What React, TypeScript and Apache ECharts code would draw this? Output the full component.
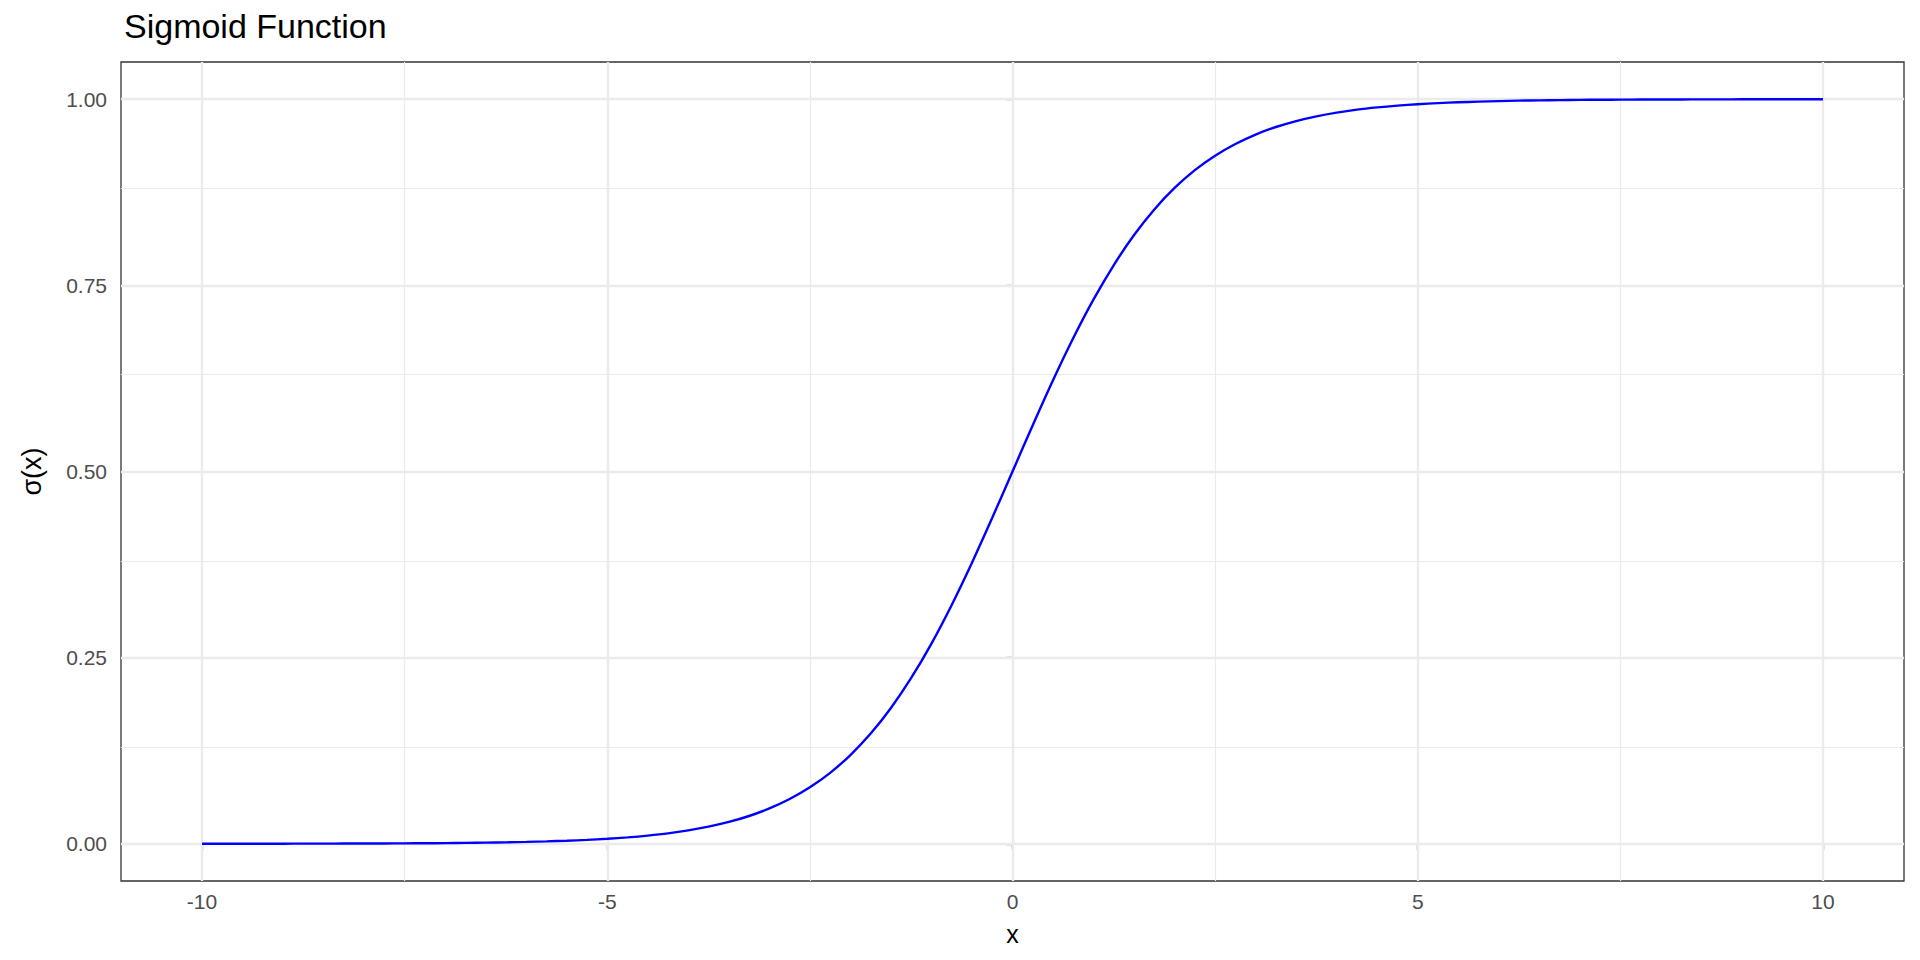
import React, { useEffect, useRef } from "react";
import * as echarts from "echarts";

const xValues = [
  -10, -9.75, -9.5, -9.25, -9, -8.75, -8.5, -8.25, -8, -7.75, -7.5, -7.25, -7, -6.75, -6.5, -6.25, -6,
  -5.75, -5.5, -5.25, -5, -4.75, -4.5, -4.25, -4, -3.75, -3.5, -3.25, -3, -2.75, -2.5, -2.25, -2,
  -1.75, -1.5, -1.25, -1, -0.75, -0.5, -0.25, 0, 0.25, 0.5, 0.75, 1, 1.25, 1.5, 1.75, 2, 2.25, 2.5,
  2.75, 3, 3.25, 3.5, 3.75, 4, 4.25, 4.5, 4.75, 5, 5.25, 5.5, 5.75, 6, 6.25, 6.5, 6.75, 7, 7.25, 7.5,
  7.75, 8, 8.25, 8.5, 8.75, 9, 9.25, 9.5, 9.75, 10,
];
const yValues = [
  0.0, 0.0001, 0.0001, 0.0001, 0.0001, 0.0002, 0.0002, 0.0003, 0.0003, 0.0004, 0.0006, 0.0007, 0.0009,
  0.0012, 0.0015, 0.0019, 0.0025, 0.0032, 0.0041, 0.0052, 0.0067, 0.0086, 0.011, 0.014, 0.018, 0.023,
  0.0293, 0.0373, 0.0474, 0.0601, 0.0759, 0.0953, 0.1192, 0.148, 0.1824, 0.2227, 0.2689, 0.3208, 0.3775,
  0.4378, 0.5, 0.5622, 0.6225, 0.6792, 0.7311, 0.7773, 0.8176, 0.852, 0.8808, 0.9047, 0.9241, 0.9399,
  0.9526, 0.9627, 0.9707, 0.977, 0.982, 0.986, 0.989, 0.9914, 0.9933, 0.9948, 0.9959, 0.9968, 0.9975,
  0.9981, 0.9985, 0.9988, 0.9991, 0.9993, 0.9994, 0.9996, 0.9997, 0.9997, 0.9998, 0.9998, 0.9999,
  0.9999, 0.9999, 0.9999, 1.0,
];
const xTicks = [-10, -5, 0, 5, 10];
const xMinor = [-7.5, -2.5, 2.5, 7.5];
const yTicks = [0, 0.25, 0.5, 0.75, 1.0];
const yMinor = [0.125, 0.375, 0.625, 0.875];

const FONT = "'Liberation Sans', Arial, Helvetica, sans-serif";

export default function App() {
  const ref = useRef<HTMLDivElement>(null);
  useEffect(() => {
    document.body.style.margin = "0";
    const chart = echarts.init(ref.current!, null, { renderer: "svg" });
    const gridLine = (axis: "x" | "y", v: number, major: boolean) => ({
      [axis === "x" ? "xAxis" : "yAxis"]: v,
      lineStyle: { color: "#EBEBEB", width: major ? 2.4 : 1.2, type: "solid" },
    });
    const markData = [
      ...xMinor.map((v) => gridLine("x", v, false)),
      ...yMinor.map((v) => gridLine("y", v, false)),
      ...xTicks.map((v) => gridLine("x", v, true)),
      ...yTicks.map((v) => gridLine("y", v, true)),
    ];
    chart.setOption({
      animation: false,
      backgroundColor: "#FFFFFF",
      title: {
        text: "Sigmoid Function",
        left: 119,
        top: 4,
        textStyle: { fontFamily: FONT, fontSize: 34, fontWeight: "normal", color: "#000000" },
      },
      grid: {
        left: 121,
        top: 62,
        right: 16,
        bottom: 79,
        show: true,
        borderColor: "#333333",
        borderWidth: 1.3,
        backgroundColor: "transparent",
      },
      xAxis: {
        type: "value",
        min: -11,
        max: 11,
        name: "x",
        nameLocation: "middle",
        nameGap: 40,
        nameTextStyle: { fontFamily: FONT, fontSize: 25, color: "#000000" },
        axisLine: { show: false },
        splitLine: { show: false },
        axisTick: {
          show: true,
          customValues: xTicks,
          length: 6,
          lineStyle: { color: "#333333", width: 1.3 },
        },
        axisLabel: {
          customValues: xTicks,
          margin: 10,
          fontFamily: FONT,
          fontSize: 21,
          color: "#4D4D4D",
        },
      },
      yAxis: {
        type: "value",
        min: -0.05,
        max: 1.05,
        name: "σ(x)",
        nameLocation: "middle",
        nameRotate: 90,
        nameGap: 76,
        nameTextStyle: { fontFamily: FONT, fontSize: 27, color: "#000000" },
        axisLine: { show: false },
        splitLine: { show: false },
        axisTick: {
          show: true,
          customValues: yTicks,
          length: 6,
          lineStyle: { color: "#333333", width: 1.3 },
        },
        axisLabel: {
          customValues: yTicks,
          margin: 14,
          fontFamily: FONT,
          fontSize: 21,
          color: "#4D4D4D",
          formatter: (v: number) => v.toFixed(2),
        },
      },
      series: [
        {
          type: "line",
          data: [],
          silent: true,
          markLine: {
            silent: true,
            symbol: ["none", "none"],
            label: { show: false },
            animation: false,
            data: markData,
          },
        },
        {
          type: "line",
          data: xValues.map((x, i) => [x, yValues[i]]),
          showSymbol: false,
          smooth: 0.3,
          lineStyle: { color: "#0000FF", width: 2.4 },
          itemStyle: { color: "#0000FF" },
          z: 5,
        },
      ],
    });
    return () => chart.dispose();
  }, []);
  return <div ref={ref} style={{ width: 1920, height: 960 }} />;
}
